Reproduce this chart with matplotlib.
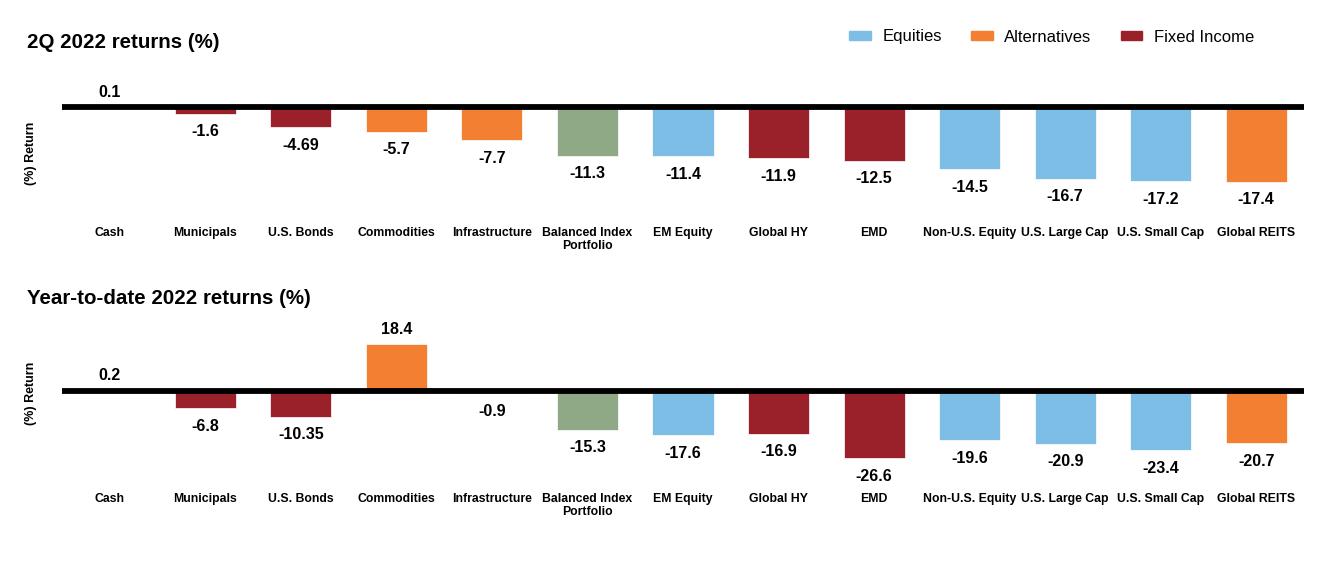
import matplotlib.pyplot as plt
from matplotlib.patches import Patch

plt.rcParams['font.family'] = ['Liberation Sans', 'DejaVu Sans']

# Data
categories = ["Cash", "Municipals", "U.S. Bonds", "Commodities", "Infrastructure",
              "Balanced Index\nPortfolio", "EM Equity", "Global HY", "EMD",
              "Non-U.S. Equity", "U.S. Large Cap", "U.S. Small Cap", "Global REITS"]
q2_returns = [0.1, -1.6, -4.69, -5.7, -7.7, -11.3, -11.4, -11.9, -12.5,
              -14.5, -16.7, -17.2, -17.4]
ytd_returns = [0.2, -6.8, -10.35, 18.4, -0.9, -15.3, -17.6, -16.9, -26.6,
               -19.6, -20.9, -23.4, -20.7]
q2_labels = ["0.1", "-1.6", "-4.69", "-5.7", "-7.7", "-11.3", "-11.4", "-11.9",
             "-12.5", "-14.5", "-16.7", "-17.2", "-17.4"]
ytd_labels = ["0.2", "-6.8", "-10.35", "18.4", "-0.9", "-15.3", "-17.6", "-16.9",
              "-26.6", "-19.6", "-20.9", "-23.4", "-20.7"]
asset_class = ["Fixed Income", "Fixed Income", "Fixed Income", "Alternatives",
               "Alternatives", "Balanced", "Equities", "Fixed Income", "Fixed Income",
               "Equities", "Equities", "Equities", "Alternatives"]

colors = {
    "Equities": "#7dbee6",
    "Alternatives": "#f38032",
    "Fixed Income": "#9a2129",
    "Balanced": "#8fa886",
}

W, H = 1327, 563
fig = plt.figure(figsize=(W / 100, H / 100), dpi=100)


def px_axes(left, top, right, bottom):
    return fig.add_axes([left / W, 1 - bottom / H, (right - left) / W, (bottom - top) / H])


def draw_panel(ax, values, labels, ylim, title, title_y, ylabel_y):
    x = range(len(categories))
    bar_colors = [colors[c] for c in asset_class]
    ax.bar(x, values, width=0.64, color=bar_colors, edgecolor="white",
           linewidth=0.5, zorder=2)
    ax.axhline(0, color="black", lw=4.2, zorder=3)
    for xi, v, lab in zip(x, values, labels):
        if v >= 0:
            ax.annotate(lab, (xi, v), xytext=(0, 5), textcoords="offset points",
                        ha="center", va="bottom", fontsize=11.5, fontweight="bold")
        else:
            ax.annotate(lab, (xi, v), xytext=(0, -7.5), textcoords="offset points",
                        ha="center", va="top", fontsize=11.5, fontweight="bold")
    ax.set_xlim(-0.5, len(categories) - 0.5)
    ax.set_ylim(*ylim)
    ax.set_xticks(list(x))
    ax.set_xticklabels(categories, fontsize=8.8, fontweight="bold", linespacing=1.15)
    ax.tick_params(axis="x", length=0, pad=6.5)
    ax.set_yticks([])
    for s in ax.spines.values():
        s.set_visible(False)
    fig.text(27 / W, 1 - title_y / H, title, fontsize=14.8, fontweight="bold",
             ha="left", va="center")
    fig.text(31 / W, 1 - ylabel_y / H, "(%) Return", fontsize=9, fontweight="bold",
             rotation=90, ha="center", va="center")


ax1 = px_axes(62, 80, 1304, 218)
draw_panel(ax1, q2_returns, q2_labels, (-25.75, 6.26), "2Q 2022 returns (%)", 42, 153)

ax2 = px_axes(62, 315, 1304, 484)
draw_panel(ax2, ytd_returns, ytd_labels, (-36.8, 30.0), "Year-to-date 2022 returns (%)", 298, 393)

handles = [Patch(color=colors[k]) for k in ["Equities", "Alternatives", "Fixed Income"]]
fig.legend(handles, ["Equities", "Alternatives", "Fixed Income"], ncol=3,
           loc="center left", bbox_to_anchor=(849 / W, 1 - 37 / H), frameon=False,
           fontsize=12, handlelength=1.3, handleheight=0.45, handletextpad=0.7,
           columnspacing=1.75, borderaxespad=0, borderpad=0)

fig.savefig("out.png", dpi=100)
